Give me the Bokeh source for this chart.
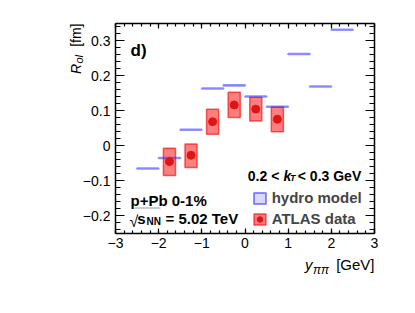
import numpy as np
from bokeh.plotting import figure
from bokeh.models import (Label, LinearAxis, FixedTicker, CustomJSTickFormatter,
                          Range1d, Legend, LegendItem, ColumnDataSource)
from bokeh.embed import file_html
from bokeh.resources import INLINE

# ---------------- data ----------------
hydro_lo = [-2.5, -2.0, -1.5, -1.0, -0.5, 0.0, 0.5, 1.0, 1.5, 2.0]
hydro_hi = [-2.0, -1.5, -1.0, -0.5, 0.0, 0.5, 1.0, 1.5, 2.0, 2.5]
hydro_val = [-0.065, -0.035, 0.046, 0.164, 0.173, 0.141, 0.112, 0.263, 0.170, 0.332]

atlas_y = [-1.75, -1.25, -0.75, -0.25, 0.25, 0.75]
atlas_val = [-0.045, -0.027, 0.069, 0.117, 0.105, 0.076]
atlas_sys_lo = [-0.085, -0.062, 0.033, 0.081, 0.071, 0.040]
atlas_sys_hi = [-0.007, 0.005, 0.105, 0.153, 0.139, 0.111]

x_major = [-3, -2, -1, 0, 1, 2, 3]
y_major = [-0.2, -0.1, 0.0, 0.1, 0.2, 0.3]

XR = (-3.0, 3.0)
YR = (-0.25, 0.35)

# ---------------- layout (canvas pixels of the axes box) ----------------
FL, FR, FT, FB = 115.0, 374.0, 23.0, 232.7
W, H = 407, 305

xs = (XR[1] - XR[0]) / (FR - FL)
ys = (YR[1] - YR[0]) / (FB - FT)


def X(px):
    return XR[0] + (px - FL) * xs


def Y(py):
    return YR[1] - (py - FT) * ys


FONT = "Liberation Sans"

p = figure(width=W, height=H, output_backend="svg", toolbar_location=None,
           x_range=Range1d(X(0), X(W)), y_range=Range1d(Y(H), Y(0)),
           min_border=0, x_axis_location=None, y_axis_location=None)
p.grid.visible = False
p.outline_line_color = None
p.background_fill_color = "white"
p.border_fill_color = "white"

x_minor = list(np.round(np.arange(-3.0, 3.001, 0.2), 3))
y_minor = list(np.round(np.arange(-0.24, 0.3401, 0.02), 3))
xt = FixedTicker(ticks=x_major, minor_ticks=x_minor)
yt = FixedTicker(ticks=y_major, minor_ticks=y_minor)

xfmt = CustomJSTickFormatter(code="""
var v = Math.round(tick);
if (v == 0) return '0';
return (v < 0 ? '\u2212' : '') + Math.abs(v);
""")
yfmt = CustomJSTickFormatter(code="""
var v = Math.round(tick * 10) / 10;
if (Math.abs(v) < 1e-9) return '0';
return (v < 0 ? '\u2212' : '') + Math.abs(v).toFixed(1);
""")
blank = CustomJSTickFormatter(code="return '';")


def make_axis(ticker, fmt, loc, bounds, major, minor):
    ax = LinearAxis(ticker=ticker, formatter=fmt, fixed_location=loc, bounds=bounds)
    ax.axis_line_color = "black"
    ax.axis_line_width = 1.5
    ax.major_tick_line_color = "black"
    ax.minor_tick_line_color = "black"
    ax.major_tick_line_width = 1.2
    ax.minor_tick_line_width = 1.2
    ax.major_tick_in = major
    ax.major_tick_out = 0
    ax.minor_tick_in = minor
    ax.minor_tick_out = 0
    ax.major_label_text_font = FONT
    ax.major_label_text_font_size = "14px"
    ax.major_label_text_color = "black"
    ax.major_label_standoff = 5
    return ax


p.add_layout(make_axis(xt, xfmt, YR[0], XR, 5, 3), "below")
p.add_layout(make_axis(xt, blank, YR[1], XR, 5, 3), "above")
p.add_layout(make_axis(yt, yfmt, XR[0], YR, 9, 5), "left")
p.add_layout(make_axis(yt, blank, XR[1], YR, 9, 5), "right")

# ---------------- glyphs ----------------
box_w = 0.28
asrc = ColumnDataSource(dict(
    left=[v - box_w / 2 for v in atlas_y],
    right=[v + box_w / 2 for v in atlas_y],
    bottom=atlas_sys_lo, top=atlas_sys_hi,
    x=atlas_y, y=atlas_val))
box_r = p.quad(left="left", right="right", bottom="bottom", top="top", source=asrc,
               fill_color="#ff0000", fill_alpha=0.5,
               line_color="#ee0000", line_alpha=0.6, line_width=1.5)

hh = 0.0008
hsrc = ColumnDataSource(dict(left=hydro_lo, right=hydro_hi,
                             bottom=[v - hh for v in hydro_val],
                             top=[v + hh for v in hydro_val]))
hydro_r = p.quad(left="left", right="right", bottom="bottom", top="top", source=hsrc,
                 fill_color="#4040ff", fill_alpha=0.2,
                 line_color="#3535ff", line_alpha=0.55, line_width=2)

dot_r = p.scatter(x="x", y="y", source=asrc, size=8, marker="circle",
                  fill_color="#dd1515", line_color="#dd1515")

# ---------------- legend ----------------
legend = Legend(items=[LegendItem(label="hydro model", renderers=[hydro_r]),
                       LegendItem(label="ATLAS data", renderers=[box_r, dot_r])],
                location=(251.7, H - 227.0),
                glyph_width=15, glyph_height=14, label_height=14,
                label_standoff=5, spacing=4, padding=0, margin=0,
                border_line_color=None, background_fill_alpha=0,
                label_text_font=FONT, label_text_font_style="bold",
                label_text_font_size="15px", label_text_baseline="middle")
p.add_layout(legend)

# ---------------- texts ----------------


def lab(x, y, text, size, style="normal", align="left", angle=0, color="black",
        font=FONT, baseline="alphabetic"):
    p.add_layout(Label(x=x, y=y, text=text, text_font=font, text_font_size=size,
                       text_font_style=style, text_align=align, angle=angle,
                       text_baseline=baseline, text_color=color))


lab(X(130), Y(50), "d)", "17px", "bold")

# y-axis title: R_ol [fm]
lab(X(75), Y(73.5), "R", "14px", "italic", angle=np.pi / 2)
lab(X(78), Y(63), "ol", "11px", "italic", angle=np.pi / 2)
lab(X(75), Y(23), "[fm]", "14px", "normal", align="right", angle=np.pi / 2)

# x-axis title: y_pipi [GeV]
lab(X(304.5), Y(264), "y", "15px", "italic")
lab(X(312.5), Y(269), "ππ", "12px", "italic")
lab(X(374), Y(264), "[GeV]", "15px", "normal", align="right")

# kT range
lab(X(247.3), Y(175), "0.2 <", "14px", "bold")
lab(X(283), Y(175), "k", "14px", "bold italic")
lab(X(289.5), Y(177.5), "T", "9px", "bold italic")
lab(X(297.3), Y(175), "< 0.3 GeV", "14px", "bold")

# system
lab(X(130), Y(200), "p+Pb 0-1%", "15px", "bold")
lab(X(129), Y(221), "√", "16px", "normal")
lab(X(136.7), Y(218.3), "s", "15px", "bold")
lab(X(146), Y(221), "NN", "10px", "bold")
lab(X(165), Y(218.3), "= 5.02 TeV", "15px", "bold")
p.segment(x0=[X(134)], y0=[Y(207.5)], x1=[X(160)], y1=[Y(207.5)],
          line_color="#999999", line_width=1)

open("out.html", "w").write(file_html(p, INLINE))
